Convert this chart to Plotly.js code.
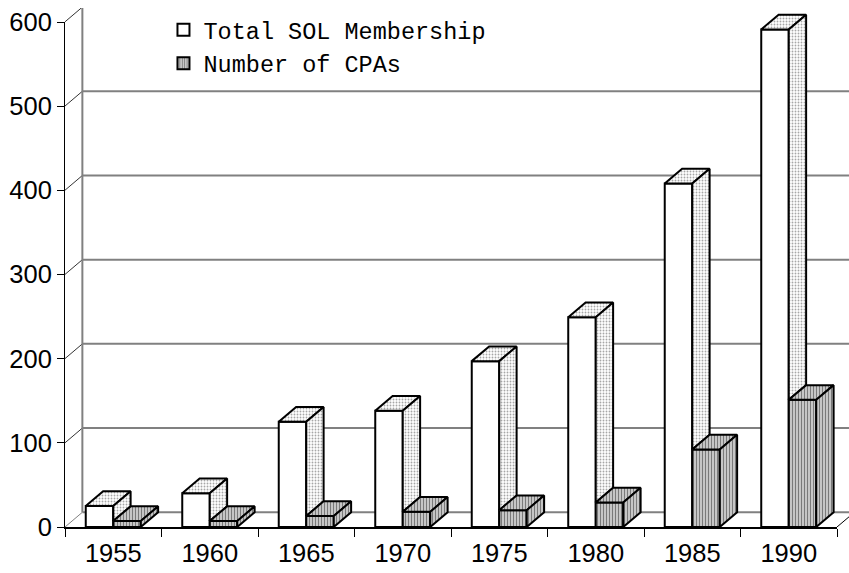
<!DOCTYPE html>
<html>
<head>
<meta charset="utf-8">
<script src="https://cdn.plot.ly/plotly-3.0.1.min.js"></script>
<style>
  html, body { margin: 0; padding: 0; background: #ffffff; }
  #chart { width: 849px; height: 573px; }
</style>
</head>
<body>
<div id="chart"></div>
<script>
// ---- data ----
const years = ['1955', '1960', '1965', '1970', '1975', '1980', '1985', '1990'];
const membership = [25, 40, 125, 138, 197, 249, 408, 591];
const cpas = [7, 7, 13, 18, 20, 29, 92, 151];
const yTickVals = [0, 100, 200, 300, 400, 500, 600];

// ---- pseudo-3D styling constants ----
const W = 0.285;     // bar width (category units)
const DX = 0.18;     // depth offset along x (category units)
const DY = 17.5;     // depth offset along y (value units)
const xs = years.map((_, i) => i);
const XMAX = 7.6244;
const YMAX = 616.4;

function poly(list) {
  const x = [], y = [];
  list.forEach(p => { p.forEach(q => { x.push(q[0]); y.push(q[1]); }); x.push(null); y.push(null); });
  return {x, y};
}
const whiteTop = poly(xs.map((c, i) => {
  const v = membership[i], x0 = c - W, x1 = c;
  return [[x0, v], [x1, v], [x1 + DX, v + DY], [x0 + DX, v + DY], [x0, v]];
}));
const whiteSide = poly(xs.map((c, i) => {
  const v = membership[i], g = cpas[i], x1 = c;
  return [[x1, g], [x1, v], [x1 + DX, v + DY], [x1 + DX, g + DY], [x1, g]];
}));
const grayTop = poly(xs.map((c, i) => {
  const v = cpas[i], x0 = c, x1 = c + W;
  return [[x0, v], [x1, v], [x1 + DX, v + DY], [x0 + DX, v + DY], [x0, v]];
}));
const graySide = poly(xs.map((c, i) => {
  const v = cpas[i], x1 = c + W;
  return [[x1, 0], [x1, v], [x1 + DX, v + DY], [x1 + DX, DY], [x1, 0]];
}));

const dotPattern = {shape: '.', size: 3, solidity: 0.3, fgcolor: '#a6a6a6', bgcolor: '#ffffff'};
const stripePattern = {shape: '|', size: 3, solidity: 0.45, fgcolor: '#7a7a7a', bgcolor: '#d6d6d6'};
const edge = {color: '#000000', width: 2};

const traces = [
  {type: 'bar', name: 'Total SOL Membership', x: xs, y: membership, offset: -W, width: W,
   marker: {color: '#ffffff', line: edge}, hoverinfo: 'y'},
  {type: 'bar', name: 'Number of CPAs', x: xs, y: cpas, offset: 0, width: W,
   marker: {color: '#d6d6d6', pattern: stripePattern, line: edge}, hoverinfo: 'y'},
  {type: 'scatter', mode: 'lines', x: whiteTop.x, y: whiteTop.y, fill: 'toself', fillcolor: '#ffffff',
   fillpattern: dotPattern, line: edge, showlegend: false, hoverinfo: 'skip'},
  {type: 'scatter', mode: 'lines', x: whiteSide.x, y: whiteSide.y, fill: 'toself', fillcolor: '#ffffff',
   fillpattern: dotPattern, line: edge, showlegend: false, hoverinfo: 'skip'},
  {type: 'scatter', mode: 'lines', x: grayTop.x, y: grayTop.y, fill: 'toself', fillcolor: '#d6d6d6',
   fillpattern: stripePattern, line: edge, showlegend: false, hoverinfo: 'skip'},
  {type: 'scatter', mode: 'lines', x: graySide.x, y: graySide.y, fill: 'toself', fillcolor: '#d6d6d6',
   fillpattern: stripePattern, line: edge, showlegend: false, hoverinfo: 'skip'},
  // carrier for the front axes
  {type: 'scatter', mode: 'markers', x: [null], y: [null], xaxis: 'x2', yaxis: 'y2', showlegend: false, hoverinfo: 'skip'}
];

// back wall, floor edge and side-wall connectors
const shapes = [];
yTickVals.forEach(v => {
  shapes.push({type: 'line', layer: 'below', xref: 'x', yref: 'y', x0: -0.5 + DX, y0: v + DY, x1: XMAX, y1: v + DY,
               line: {color: '#808080', width: 2}});
  shapes.push({type: 'line', layer: 'below', xref: 'x', yref: 'y', x0: -0.5, y0: v, x1: -0.5 + DX, y1: v + DY,
               line: {color: v === 0 ? '#808080' : '#333333', width: 1}});
});
shapes.push({type: 'line', layer: 'below', xref: 'x', yref: 'y', x0: -0.5 + DX, y0: DY,
             x1: -0.5 + DX, y1: yTickVals[yTickVals.length - 1] + DY, line: {color: '#808080', width: 2}});
shapes.push({type: 'line', layer: 'below', xref: 'x', yref: 'y', x0: xs.length - 0.5, y0: 0,
             x1: xs.length - 0.5 + DX, y1: DY, line: {color: '#000000', width: 1}});

const labelFont = {family: 'Arial, "Liberation Sans", sans-serif', size: 25.5, color: '#000000'};
const bounds = xs.concat([xs.length]).map(i => i - 0.5);

const layout = {
  width: 849, height: 573,
  margin: {l: 65, r: 0, t: 8, b: 46, pad: 0, autoexpand: false},
  paper_bgcolor: '#ffffff', plot_bgcolor: 'rgba(0,0,0,0)',
  barmode: 'overlay',
  showlegend: true,
  legend: {x: 0.1256, xanchor: 'left', y: 1.0, yanchor: 'top', bgcolor: 'rgba(0,0,0,0)',
           font: {family: '"Courier New", "Liberation Mono", monospace', size: 23.5, color: '#000000'},
           itemwidth: 30, tracegroupgap: 0},
  xaxis: {domain: [0, 1], range: [-0.5, XMAX], tickvals: xs, ticktext: years, ticks: 'outside', ticklen: 3,
          tickcolor: 'rgba(0,0,0,0)', showgrid: false, zeroline: false, showline: false, tickfont: labelFont,
          fixedrange: true},
  yaxis: {domain: [0, 1], range: [0, YMAX], showticklabels: false, showgrid: false, zeroline: false,
          showline: false, ticks: '', fixedrange: true},
  xaxis2: {domain: [0, 772 / 784], range: [-0.5, xs.length - 0.5], anchor: 'y2', tickvals: bounds,
           ticktext: bounds.map(() => ''), ticks: 'outside', ticklen: 8, tickwidth: 1, tickcolor: '#000000',
           showline: true, linecolor: '#000000', linewidth: 1.5, showgrid: false, zeroline: false, fixedrange: true},
  yaxis2: {domain: [0, 505 / 519], range: [0, 600], anchor: 'x2', tickvals: yTickVals, ticks: 'outside',
           ticklen: 7, tickwidth: 1, tickcolor: '#000000', showline: true, linecolor: '#000000', linewidth: 1,
           showgrid: false, zeroline: false, tickfont: labelFont, fixedrange: true},
  shapes: shapes
};

Plotly.newPlot('chart', traces, layout, {displayModeBar: false, staticPlot: true});
</script>
</body>
</html>
